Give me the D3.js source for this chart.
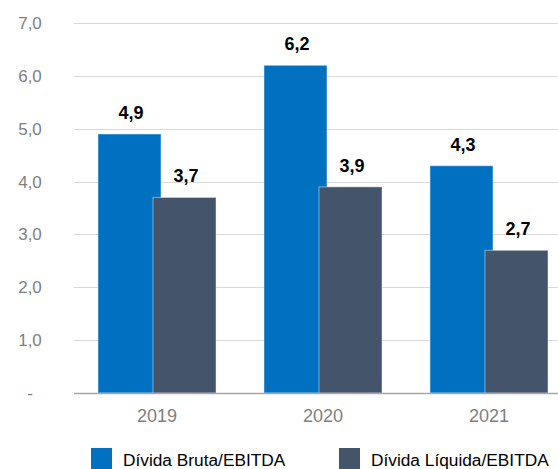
<!DOCTYPE html>
<html>
<head>
<meta charset="utf-8">
<script src="https://cdn.jsdelivr.net/npm/d3@7"></script>
<style>
  html, body { margin: 0; padding: 0; background: #ffffff; }
  svg { display: block; }
  text { font-family: "Liberation Sans", Arial, sans-serif; }
</style>
</head>
<body>
<svg id="chart" width="558" height="469"></svg>
<script>
const years = ["2019", "2020", "2021"];
const seriesNames = ["Dívida Bruta/EBITDA", "Dívida Líquida/EBITDA"];
const brutaValues = [4.9, 6.2, 4.3];
const liquidaValues = [3.7, 3.9, 2.7];
const yTicks = [0, 1, 2, 3, 4, 5, 6, 7];
const yTickLabels = ["-", "1,0", "2,0", "3,0", "4,0", "5,0", "6,0", "7,0"];
const colors = ["#0070C0", "#44546A"];

const svg = d3.select("#chart");
const W = 558;

const y = d3.scaleLinear().domain([0, 7]).range([393, 23]);
const x = d3.scaleBand().domain(years).range([74, 572])
  .paddingInner(0.289).paddingOuter(0.1445);
const barW = 63;

// gridlines
svg.append("g").selectAll("line").data(yTicks.filter(d => d > 0)).join("line")
  .attr("x1", 74).attr("x2", W)
  .attr("y1", d => Math.round(y(d)) + 0.5).attr("y2", d => Math.round(y(d)) + 0.5)
  .attr("stroke", "#d9d9d9").attr("stroke-width", 1);

// y tick labels
svg.append("g").selectAll("text").data(yTicks).join("text")
  .attr("x", 30).attr("y", d => y(d))
  .attr("dy", "0.35em")
  .attr("text-anchor", "middle")
  .attr("font-size", 17).attr("fill", "#7f7f7f")
  .text((d, i) => yTickLabels[i]);

const rows = years.map((yr, i) => ({ yr, vals: [brutaValues[i], liquidaValues[i]] }));

const bars = [];
rows.forEach(r => {
  r.vals.forEach((v, s) => {
    const x0 = s === 0 ? x(r.yr) : x(r.yr) + x.bandwidth() - barW;
    bars.push({ x0, v, s });
  });
});

svg.append("g").selectAll("rect").data(bars).join("rect")
  .attr("x", d => d.x0)
  .attr("y", d => y(d.v))
  .attr("width", barW)
  .attr("height", d => y(0) - y(d.v))
  .attr("fill", d => colors[d.s])
  .attr("stroke", "rgba(255,255,255,0.45)")
  .attr("stroke-width", 1);

// axis line
svg.append("line")
  .attr("x1", 74).attr("x2", W)
  .attr("y1", 393.5).attr("y2", 393.5)
  .attr("stroke", "#a6a6a6").attr("stroke-width", 1.3);

// data labels
const fmt = v => v.toFixed(1).replace(".", ",");
svg.append("g").selectAll("text").data(bars).join("text")
  .attr("x", d => d.x0 + barW / 2 + 1.5)
  .attr("y", d => y(d.v) - 15)
  .attr("text-anchor", "middle")
  .attr("font-size", 18).attr("font-weight", "bold").attr("fill", "#000000")
  .text(d => fmt(d.v));

// x labels
svg.append("g").selectAll("text").data(years).join("text")
  .attr("x", d => x(d) + x.bandwidth() / 2)
  .attr("y", 422)
  .attr("text-anchor", "middle")
  .attr("font-size", 18).attr("fill", "#7f7f7f")
  .text(d => d);

// legend
const legendX = [91, 339];
const lg = svg.append("g").selectAll("g").data(seriesNames).join("g")
  .attr("transform", (d, i) => `translate(${legendX[i]},448)`);
lg.append("rect").attr("width", 21).attr("height", 21).attr("fill", (d, i) => colors[i]);
lg.append("text").attr("x", 32).attr("y", 18)
  .attr("font-size", 17.3).attr("fill", "#000000")
  .text(d => d);
</script>
</body>
</html>
